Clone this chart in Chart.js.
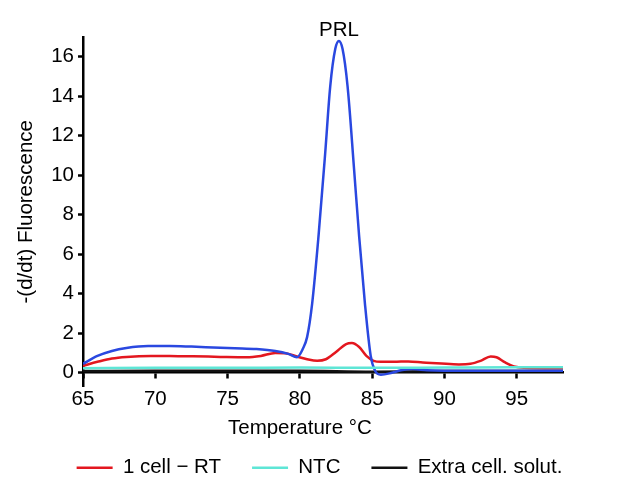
<!DOCTYPE html>
<html>
<head>
<meta charset="utf-8">
<script src="https://cdn.jsdelivr.net/npm/chart.js@4.4.1/dist/chart.umd.min.js"></script>
<style>
  html,body{ margin:0; padding:0; background:#fff; }
</style>
</head>
<body>
<canvas id="chart" width="639" height="480"></canvas>
<script>
// ── DATOS ───────────────────────────────────────────────
const TITLE   = 'PRL';
const X_TITLE = 'Temperature °C';
const Y_TITLE = '-(d/dt) Fluorescence';

const LABELS = ['1 cell − RT', 'NTC', 'Extra cell. solut.', 'PRL'];

// 1 cell - RT (rojo)
const rtT = [65, 66, 67, 68, 69.7, 71, 72.6, 74.5, 76.3, 77.3, 78.3, 79, 79.8, 80.5, 81.2, 81.8, 82.5, 83.2, 83.6, 84.1, 84.6, 85.1, 85.6, 86.5, 87.5, 88.5, 89.8, 91, 91.8, 92.5, 93.2, 93.6, 94.2, 94.8, 95.5, 98.2];
const rtV = [0.35, 0.55, 0.72, 0.8, 0.85, 0.84, 0.83, 0.8, 0.78, 0.85, 1.0, 0.98, 0.82, 0.68, 0.6, 0.68, 1.05, 1.45, 1.5, 1.3, 0.85, 0.6, 0.55, 0.55, 0.57, 0.52, 0.46, 0.42, 0.45, 0.6, 0.82, 0.78, 0.52, 0.32, 0.25, 0.22];

// NTC (cian)
const ntcT = [65, 70, 75, 80, 85, 90, 95, 98.2];
const ntcV = [0.22, 0.25, 0.25, 0.26, 0.25, 0.26, 0.27, 0.27];

// Extra cell. solut. (negro)
const extT = [65, 70, 75, 80, 85, 90, 95, 98.2];
const extV = [0.08, 0.1, 0.1, 0.1, 0.05, 0.08, 0.08, 0.08];

// PRL (azul, sin leyenda)
const prlT = [65, 66, 67, 68, 69.5, 71, 72.5, 74, 75.5, 77, 78.3, 79.2, 79.8, 80.2, 80.5, 80.85, 81.3, 81.75, 82.1, 82.45, 82.7, 82.95, 83.3, 83.75, 84.1, 84.5, 84.9, 85.2, 85.6, 86.3, 87, 87.8, 88.8, 90, 92, 95, 98.2];
const prlV = [0.45, 0.85, 1.1, 1.25, 1.35, 1.35, 1.32, 1.28, 1.24, 1.2, 1.1, 0.95, 0.78, 1.2, 1.8, 3.5, 7.0, 11.1, 14.5, 16.4, 16.8, 16.4, 14.5, 10.3, 6.9, 3.5, 0.85, 0.1, -0.1, -0.02, 0.12, 0.18, 0.12, 0.1, 0.1, 0.1, 0.1];

const X_MIN = 65, X_MAX = 98.2, X_STEP = 5;
const Y_MIN = -0.7, Y_MAX = 17, Y_STEP = 2;

// ── ESTILO ──────────────────────────────────────────────
const FONT = "'Liberation Sans', Arial, sans-serif";
const FS = 20.5;
const COLORS = ['#e3171f', '#5ee6d6', '#111111', '#2a48e0'];
const ORDER  = [2, 0, 3, 1];   // cian encima, luego azul

Chart.defaults.font.family = FONT;
Chart.defaults.font.size = FS;
Chart.defaults.color = '#000';

const pts = (t, v) => t.map((x, i) => ({ x, y: v[i] }));
const series = [pts(rtT, rtV), pts(ntcT, ntcV), pts(extT, extV), pts(prlT, prlV)];

// caja de layout para el título del eje X (centrado en 80 °C como el original)
const xTitleBox = {
  id: 'xTitleBox',
  start(chart){
    const box = {
      options: {},
      position: 'bottom', weight: 500, fullSize: true,
      isHorizontal(){ return true; },
      update(maxWidth){ this.width = maxWidth; this.height = 40; },
      draw(){
        const ctx = chart.ctx;
        ctx.save();
        ctx.font = FS + 'px ' + FONT;
        ctx.fillStyle = '#000';
        ctx.textAlign = 'center';
        ctx.textBaseline = 'middle';
        ctx.fillText(X_TITLE, chart.scales.x.getPixelForValue(80), this.top + 42);
        ctx.restore();
      }
    };
    Chart.layouts.addBox(chart, box);
  },
  afterDraw(chart){
    const ctx = chart.ctx;
    ctx.save();
    ctx.font = FS + 'px ' + FONT;
    ctx.fillStyle = '#000';
    ctx.textAlign = 'center';
    ctx.textBaseline = 'middle';
    ctx.fillText(TITLE, chart.scales.x.getPixelForValue(82.7), 30);
    ctx.restore();
  }
};

new Chart(document.getElementById('chart'), {
  type: 'line',
  data: {
    datasets: series.map((data, i) => ({
      label: LABELS[i],
      data,
      borderColor: COLORS[i],
      backgroundColor: COLORS[i],
      borderWidth: 2.5,
      pointRadius: 0,
      cubicInterpolationMode: 'monotone',
      order: ORDER[i],
    }))
  },
  options: {
    responsive: false,
    animation: false,
    layout: { padding: { top: 37, left: 0, right: 0, bottom: -8 } },
    plugins: {
      legend: {
        position: 'bottom',
        labels: {
          boxWidth: 36, boxHeight: 0, padding: 31,
          filter: item => item.datasetIndex !== 3,
          sort: (a, b) => a.datasetIndex - b.datasetIndex,
        }
      },
      tooltip: { enabled: false }
    },
    scales: {
      x: {
        type: 'linear',
        position: { y: 0 },
        min: X_MIN, max: X_MAX,
        border: { color: '#000', width: 2.5 },
        grid: { drawOnChartArea: false, tickLength: 5, tickColor: '#000', tickWidth: 2.5 },
        ticks: { stepSize: X_STEP, includeBounds: false, padding: 9, maxRotation: 0, color: '#000' },
        afterFit(s){ s.paddingRight = 76; }
      },
      y: {
        min: Y_MIN, max: Y_MAX,
        border: { color: '#000', width: 2.5 },
        grid: { drawOnChartArea: false, tickLength: 5, tickColor: '#000', tickWidth: 2.5 },
        ticks: { stepSize: Y_STEP, includeBounds: false, padding: 4, color: '#000' },
        title: { display: true, text: Y_TITLE, padding: { top: 14, bottom: 0 }, color: '#000' },
        afterFit(s){ s.width = 83; }
      }
    }
  },
  plugins: [xTitleBox]
});
</script>
</body>
</html>
